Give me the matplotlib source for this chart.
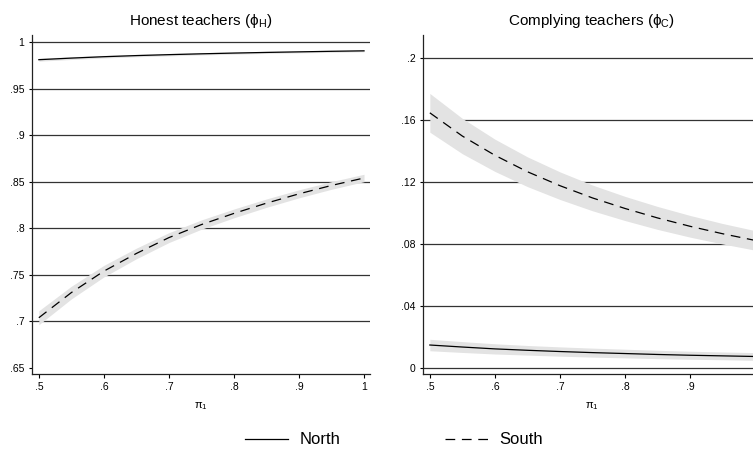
import matplotlib
matplotlib.use("Agg")
import matplotlib.pyplot as plt
import numpy as np

plt.rcParams['font.family'] = ['Liberation Sans', 'DejaVu Sans']
plt.rcParams['mathtext.fontset'] = 'custom'
plt.rcParams['mathtext.rm'] = 'Liberation Sans'
plt.rcParams['mathtext.it'] = 'Liberation Sans:italic'
plt.rcParams['lines.scale_dashes'] = False

# probability grid
pi1 = [0.50, 0.55, 0.60, 0.65, 0.70, 0.75, 0.80, 0.85, 0.90, 0.95, 1.00]

# honest teachers
honest_north = [0.9810, 0.9827, 0.9842, 0.9854, 0.9864, 0.9873, 0.9881, 0.9888, 0.9894, 0.9900, 0.9905]
honest_north_se = [0.0016, 0.0015, 0.0014, 0.0013, 0.0013, 0.0012, 0.0012, 0.0011, 0.0011, 0.0011, 0.0010]
honest_south = [0.704, 0.731, 0.754, 0.773, 0.790, 0.804, 0.816, 0.827, 0.837, 0.846, 0.854]
honest_south_se = [0.0075, 0.0068, 0.0062, 0.0057, 0.0053, 0.0050, 0.0047, 0.0045, 0.0043, 0.0041, 0.0040]

# complying teachers
comply_north = [0.0148, 0.0135, 0.0123, 0.0114, 0.0106, 0.0099, 0.0093, 0.0087, 0.0082, 0.0078, 0.0074]
comply_north_se = [0.0037, 0.0035, 0.0033, 0.0031, 0.0030, 0.0029, 0.0028, 0.0027, 0.0026, 0.0025, 0.0025]
comply_south = [0.1646, 0.1496, 0.1372, 0.1266, 0.1176, 0.1097, 0.1029, 0.0968, 0.0914, 0.0866, 0.0823]
comply_south_se = [0.0125, 0.0114, 0.0104, 0.0096, 0.0089, 0.0083, 0.0078, 0.0074, 0.0070, 0.0066, 0.0063]

xticks = [0.5, 0.6, 0.7, 0.8, 0.9, 1.0]
xtick_labels = ['.5', '.6', '.7', '.8', '.9', '1']
honest_ticks = [0.65, 0.7, 0.75, 0.8, 0.85, 0.9, 0.95, 1.0]
honest_labels = ['.65', '.7', '.75', '.8', '.85', '.9', '.95', '1']
comply_ticks = [0, 0.04, 0.08, 0.12, 0.16, 0.2]
comply_labels = ['0', '.04', '.08', '.12', '.16', '.2']

band_col = '#e3e3e3'
grid_col = '#333333'
dash = (0, (7, 4.8))

W, H = 753, 462
fig = plt.figure(figsize=(W / 100, H / 100), dpi=100)
ax1 = fig.add_axes([32 / W, 1 - 374 / H, 338 / W, 339 / H])
ax2 = fig.add_axes([423 / W, 1 - 374 / H, 338 / W, 339 / H])


def panel(ax, north, north_se, south, south_se, yticks, ylabels, grid_vals, ylim, title):
    x = np.array(pi1)
    for y, se in ((north, north_se), (south, south_se)):
        y = np.array(y)
        se = np.array(se)
        ax.fill_between(x, y - se, y + se, color=band_col, lw=0, zorder=2)
    for g in grid_vals:
        ax.axhline(g, color=grid_col, lw=0.9, zorder=1)
    ax.plot(x, north, color='black', lw=0.9, zorder=3, label='North')
    ax.plot(x, south, color='black', lw=0.9, ls=dash, zorder=3, label='South')
    ax.set_xlim(0.4895, 1.0092)
    ax.set_ylim(*ylim)
    ax.set_xticks(xticks)
    ax.set_xticklabels(xtick_labels)
    ax.set_yticks(yticks)
    ax.set_yticklabels(ylabels)
    ax.tick_params(axis='y', length=2.4, width=0.8, pad=3, labelsize=7.5, colors='black')
    ax.tick_params(axis='x', length=3, width=0.8, pad=3, labelsize=7.5, colors='black')
    for s in ('top', 'right'):
        ax.spines[s].set_visible(False)
    for s in ('left', 'bottom'):
        ax.spines[s].set_linewidth(0.9)
        ax.spines[s].set_color('#222222')
    ax.set_title(title, fontsize=11, pad=7)
    ax.set_xlabel('π$_\\mathregular{1}$', fontsize=8, labelpad=6)


panel(ax1, honest_north, honest_north_se, honest_south, honest_south_se,
      honest_ticks, honest_labels, honest_ticks[1:], (0.6436, 1.0075),
      'Honest teachers (ϕ$_\\mathregular{H}$)')
panel(ax2, comply_north, comply_north_se, comply_south, comply_south_se,
      comply_ticks, comply_labels, comply_ticks, (-0.0039, 0.2148),
      'Complying teachers (ϕ$_\\mathregular{C}$)')

handles, labels = ax1.get_legend_handles_labels()
fig.legend(handles, labels, loc='center left', bbox_to_anchor=(245 / W, 1 - 440 / H),
           ncol=2, frameon=False, fontsize=12, handlelength=2.6, handletextpad=0.65,
           columnspacing=6.3, borderpad=0, borderaxespad=0)

fig.savefig('out.png', dpi=100, facecolor='white')
